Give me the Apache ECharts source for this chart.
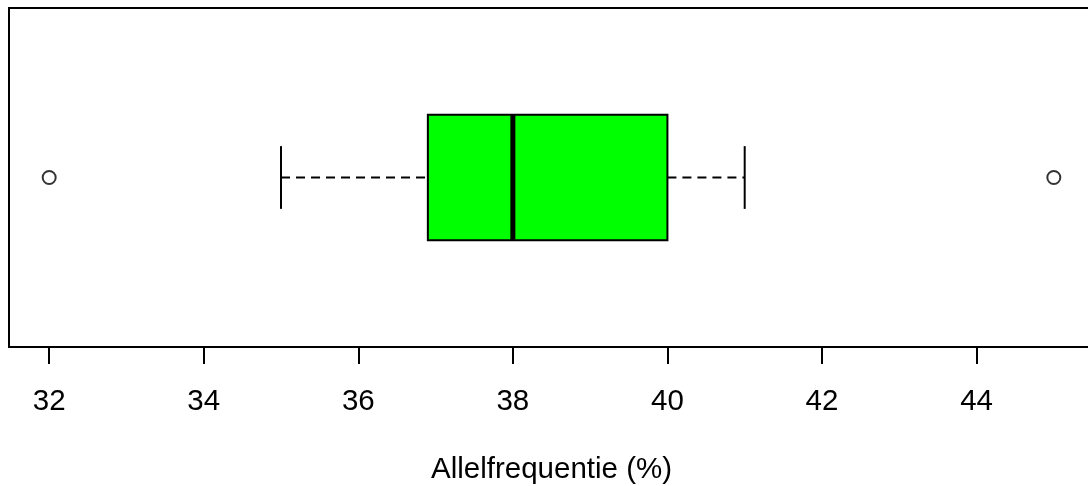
<!DOCTYPE html>
<html>
<head>
<meta charset="utf-8">
<script src="https://cdn.jsdelivr.net/npm/echarts@6/dist/echarts.min.js"></script>
<style>
html, body { margin: 0; padding: 0; background: #fff; }
#chart { width: 1088px; height: 486px; }
</style>
</head>
<body>
<div id="chart"></div>
<script>
// ---- data ----
const categories = ['Allelfrequentie'];
// [position, lower whisker, Q1, median, Q3, upper whisker]
const boxStats = [[1, 35, 36.9, 38, 40, 41]];
const outliers = [[32, 1], [45, 1]];
const tickValues = [32, 34, 36, 38, 40, 42, 44];
const xTitle = 'Allelfrequentie (%)';

const BOX_HALF = 0.2;
const CAP_HALF = 0.1;

const chart = echarts.init(document.getElementById('chart'), null, { renderer: 'canvas' });

const option = {
  backgroundColor: '#ffffff',
  animation: false,
  grid: {
    left: 9, top: 8, width: 1085, height: 339,
    outerBoundsMode: 'none', containLabel: false,
    show: true, borderColor: '#000', borderWidth: 2, backgroundColor: 'transparent'
  },
  xAxis: {
    type: 'value',
    min: 31.48, max: 45.52,
    splitLine: { show: false },
    axisLine: { show: true, lineStyle: { color: '#000', width: 2 } },
    axisTick: { show: true, length: 17, customValues: tickValues, lineStyle: { color: '#000', width: 2 } },
    axisLabel: {
      customValues: tickValues, margin: 40, color: '#000',
      fontFamily: 'Liberation Sans, Arial, sans-serif', fontSize: 29.5,
      showMinLabel: true, showMaxLabel: true
    },
    name: xTitle,
    nameLocation: 'middle',
    nameGap: 108,
    nameTextStyle: { color: '#000', fontFamily: 'Liberation Sans, Arial, sans-serif', fontSize: 29.5 }
  },
  yAxis: {
    type: 'value', min: 0.46, max: 1.54,
    show: false,
    splitLine: { show: false }
  },
  series: [
    {
      type: 'custom',
      name: categories[0],
      data: boxStats,
      encode: { x: [1, 2, 3, 4, 5], y: 0 },
      renderItem: function (params, api) {
        const p = api.value(0);
        const lo = api.coord([api.value(1), p]);
        const q1 = api.coord([api.value(2), p]);
        const med = api.coord([api.value(3), p]);
        const q3 = api.coord([api.value(4), p]);
        const hi = api.coord([api.value(5), p]);
        const yTop = api.coord([api.value(3), p + BOX_HALF])[1];
        const yBot = api.coord([api.value(3), p - BOX_HALF])[1];
        const cTop = api.coord([api.value(3), p + CAP_HALF])[1];
        const cBot = api.coord([api.value(3), p - CAP_HALF])[1];
        const yc = med[1];
        const dash = { stroke: '#000', lineWidth: 2, lineDash: [9, 6] };
        const solid = { stroke: '#000', lineWidth: 2 };
        return {
          type: 'group',
          children: [
            { type: 'line', shape: { x1: lo[0], y1: yc, x2: q1[0], y2: yc }, style: dash },
            { type: 'line', shape: { x1: q3[0], y1: yc, x2: hi[0], y2: yc }, style: dash },
            { type: 'line', shape: { x1: lo[0], y1: cTop, x2: lo[0], y2: cBot }, style: solid },
            { type: 'line', shape: { x1: hi[0], y1: cTop, x2: hi[0], y2: cBot }, style: solid },
            { type: 'rect', shape: { x: q1[0], y: yTop, width: q3[0] - q1[0], height: yBot - yTop },
              style: { fill: '#00ff00', stroke: '#000', lineWidth: 2 } },
            { type: 'line', shape: { x1: med[0], y1: yTop, x2: med[0], y2: yBot },
              style: { stroke: '#000', lineWidth: 5 } }
          ]
        };
      }
    },
    {
      type: 'scatter',
      data: outliers,
      symbol: 'circle',
      symbolSize: 13,
      itemStyle: { color: '#fff', borderColor: '#000', borderWidth: 2 }
    }
  ]
};
chart.setOption(option);
</script>
</body>
</html>
